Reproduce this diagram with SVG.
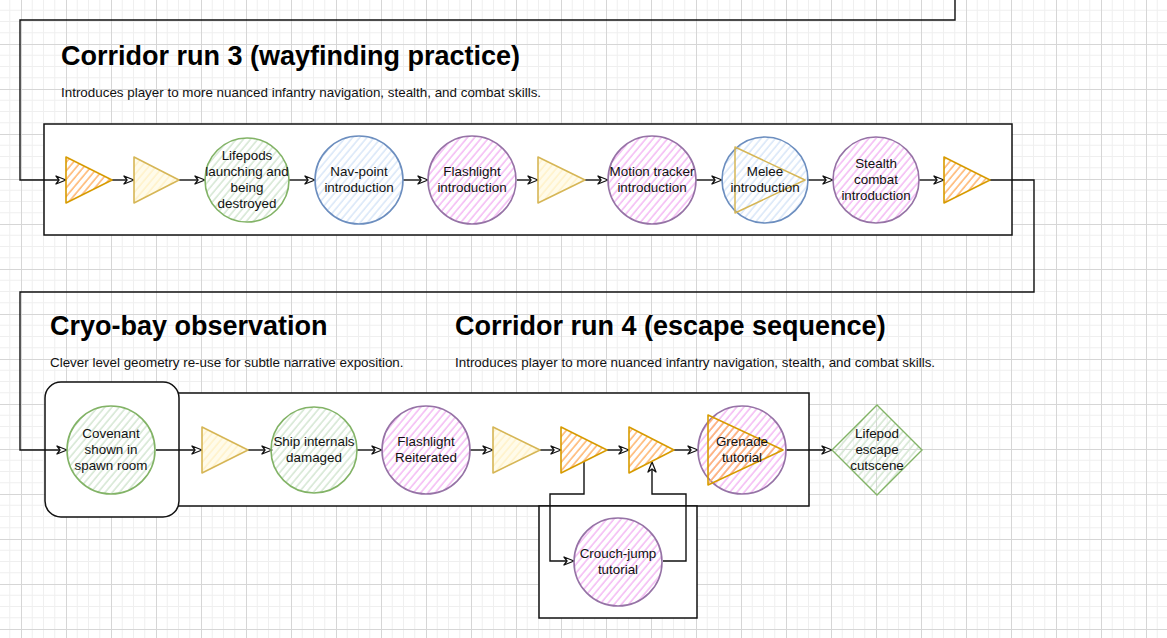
<svg xmlns="http://www.w3.org/2000/svg" width="1167" height="638" viewBox="0 0 1167 638">
<defs>
  <pattern id="grid" patternUnits="userSpaceOnUse" x="21" y="-1" width="45" height="45">
    <rect x="0" y="0" width="45" height="45" fill="#fff"/>
    <path d="M11.25 0V45M22.5 0V45M33.75 0V45M0 11.25H45M0 22.5H45M0 33.75H45" stroke="#efefef" stroke-width="1"/>
    <path d="M0.5 0V45M0 0.5H45" stroke="#d6d6d6" stroke-width="1"/>
  </pattern>
  <pattern id="hP" patternUnits="userSpaceOnUse" width="5.5" height="10" patternTransform="rotate(40)">
    <line x1="1" y1="0" x2="1" y2="10" stroke="#f2aef2" stroke-width="1.3"/>
  </pattern>
  <pattern id="hG" patternUnits="userSpaceOnUse" width="5.5" height="10" patternTransform="rotate(40)">
    <line x1="1" y1="0" x2="1" y2="10" stroke="#cde2cb" stroke-width="1.3"/>
  </pattern>
  <pattern id="hB" patternUnits="userSpaceOnUse" width="5.5" height="10" patternTransform="rotate(40)">
    <line x1="1" y1="0" x2="1" y2="10" stroke="#d2e2f7" stroke-width="1.3"/>
  </pattern>
  <pattern id="hO" patternUnits="userSpaceOnUse" width="5.5" height="10" patternTransform="rotate(40)">
    <line x1="1" y1="0" x2="1" y2="10" stroke="#ffb36b" stroke-width="1.5"/>
  </pattern>
  <pattern id="hY" patternUnits="userSpaceOnUse" width="5.5" height="10" patternTransform="rotate(40)">
    <rect width="5.5" height="10" fill="#fffbea"/>
    <line x1="1" y1="0" x2="1" y2="10" stroke="#fff2c8" stroke-width="1.5"/>
  </pattern>
  <marker id="arr" markerUnits="userSpaceOnUse" markerWidth="12" markerHeight="10" refX="11" refY="5" orient="auto" overflow="visible">
    <path d="M1,1 L11,5 L1,9 L4,5 Z" fill="#fff" stroke="#111" stroke-width="1.3" stroke-linejoin="round"/>
  </marker>
</defs>
<style>
  .t{font-family:"Liberation Sans",Arial,Helvetica,sans-serif;font-size:13.4px;fill:#111;text-anchor:middle}
  .title{font-family:"Liberation Sans",Arial,Helvetica,sans-serif;font-weight:bold;font-size:27px;fill:#000}
  .sub{font-family:"Liberation Sans",Arial,Helvetica,sans-serif;font-size:13.4px;fill:#111}
  .box{fill:#fff;stroke:#111;stroke-width:1.5}
  .edge{fill:none;stroke:#111;stroke-width:1.4}
  .ea{fill:none;stroke:#111;stroke-width:1.4;marker-end:url(#arr)}
  .cP{fill:url(#hP);stroke:#9673a6;stroke-width:1.6}
  .cG{fill:url(#hG);stroke:#82b366;stroke-width:1.6}
  .cB{fill:url(#hB);stroke:#6c8ebf;stroke-width:1.6}
  .tO{fill:url(#hO);stroke:#d79b00;stroke-width:1.6;stroke-linejoin:round}
  .tY{fill:url(#hY);stroke:#d6b656;stroke-width:1.6;stroke-linejoin:round}
</style>
<rect x="0" y="0" width="1167" height="638" fill="url(#grid)"/>

<g id="containers">
  <rect id="corridor3" class="box" x="44" y="124" width="968" height="111"/>
  <rect id="corridor4" class="box" x="178" y="393" width="631" height="113"/>
  <rect id="cryobay" class="box" x="45" y="382" width="134" height="135" rx="16"/>
  <rect id="crouchbox" class="box" x="539" y="506" width="158" height="112"/>
</g>

<g id="titles">
  <text class="title" x="61" y="65">Corridor run 3 (wayfinding practice)</text>
  <text class="sub" x="61" y="97">Introduces player to more nuanced infantry navigation, stealth, and combat skills.</text>
  <text class="title" x="50" y="335">Cryo-bay observation</text>
  <text class="sub" x="50" y="367">Clever level geometry re-use for subtle narrative exposition.</text>
  <text class="title" x="455" y="335">Corridor run 4 (escape sequence)</text>
  <text class="sub" x="455" y="367">Introduces player to more nuanced infantry navigation, stealth, and combat skills.</text>
</g>

<g id="connectors">
  <path class="ea" d="M955,0 V20 H20 V180 H66"/>
  <path class="ea" d="M112,180 H134"/>
  <path class="ea" d="M179,180 H205"/>
  <path class="ea" d="M289,180 H315"/>
  <path class="ea" d="M403,180 H428"/>
  <path class="ea" d="M517,180 H538"/>
  <path class="ea" d="M585,180 H608"/>
  <path class="ea" d="M696,180 H722"/>
  <path class="ea" d="M807,180 H833"/>
  <path class="ea" d="M919,180 H944"/>
  <path class="ea" d="M990,180 H1034 V292 H20 V450 H67"/>
  <path class="ea" d="M156,450 H202"/>
  <path class="ea" d="M248,450 H272"/>
  <path class="ea" d="M357,450 H382"/>
  <path class="ea" d="M469,450 H493"/>
  <path class="ea" d="M540,450 H561"/>
  <path class="ea" d="M607,450 H629"/>
  <path class="ea" d="M674,450 H698"/>
  <path class="ea" d="M785,450 H832"/>
  <path class="ea" d="M584,462 V494 H550 V561 H574"/>
  <path class="ea" d="M663,561 H686 V494 H652 V462"/>
</g>

<g id="n-start3"><polygon class="tO" points="66,157 112,180 66,203"/></g>
<g id="n-gate1"><polygon class="tY" points="134,157 179,180 134,203"/></g>
<g id="n-lifepods">
  <circle class="cG" cx="247" cy="180" r="42"/>
  <text class="t" x="247" y="160">Lifepods</text>
  <text class="t" x="247" y="176">launching and</text>
  <text class="t" x="247" y="192">being</text>
  <text class="t" x="247" y="208">destroyed</text>
</g>
<g id="n-navpoint">
  <circle class="cB" cx="359" cy="180" r="44"/>
  <text class="t" x="359" y="176">Nav-point</text>
  <text class="t" x="359" y="192">introduction</text>
</g>
<g id="n-flashlight">
  <circle class="cP" cx="472" cy="180" r="44"/>
  <text class="t" x="472" y="176">Flashlight</text>
  <text class="t" x="472" y="192">introduction</text>
</g>
<g id="n-gate2"><polygon class="tY" points="538,157 585,180 538,203"/></g>
<g id="n-motion">
  <circle class="cP" cx="652" cy="180" r="44"/>
  <text class="t" x="652" y="176">Motion tracker</text>
  <text class="t" x="652" y="192">introduction</text>
</g>
<g id="n-melee">
  <circle class="cB" cx="765" cy="180" r="43"/>
  <polygon points="735,147 805,180 735,213" fill="none" stroke="#d6b656" stroke-width="1.5" stroke-linejoin="round"/>
  <text class="t" x="765" y="176">Melee</text>
  <text class="t" x="765" y="192">introduction</text>
</g>
<g id="n-stealth">
  <circle class="cP" cx="876" cy="180" r="43"/>
  <text class="t" x="876" y="168">Stealth</text>
  <text class="t" x="876" y="184">combat</text>
  <text class="t" x="876" y="200">introduction</text>
</g>
<g id="n-end3"><polygon class="tO" points="944,157 990,180 944,203"/></g>

<g id="n-covenant">
  <circle class="cG" cx="111" cy="450" r="44"/>
  <text class="t" x="111" y="438">Covenant</text>
  <text class="t" x="111" y="454">shown in</text>
  <text class="t" x="111" y="470">spawn room</text>
</g>
<g id="n-gate3"><polygon class="tY" points="202,427 248,450 202,473"/></g>
<g id="n-ship">
  <circle class="cG" cx="314" cy="450" r="43"/>
  <text class="t" x="314" y="446">Ship internals</text>
  <text class="t" x="314" y="462">damaged</text>
</g>
<g id="n-flashlight2">
  <circle class="cP" cx="426" cy="450" r="44"/>
  <text class="t" x="426" y="446">Flashlight</text>
  <text class="t" x="426" y="462">Reiterated</text>
</g>
<g id="n-gate4"><polygon class="tY" points="493,427 540,450 493,473"/></g>
<g id="n-branch"><polygon class="tO" points="561,427 607,450 561,473"/></g>
<g id="n-merge"><polygon class="tO" points="629,427 674,450 629,473"/></g>
<g id="n-grenade">
  <circle class="cP" cx="742" cy="450" r="44"/>
  <polygon class="tO" points="708,415 783,450 708,485"/>
  <text class="t" x="742" y="446">Grenade</text>
  <text class="t" x="742" y="462">tutorial</text>
</g>
<g id="n-escape">
  <polygon points="877,405 922,450 877,495 832,450" fill="url(#hG)" stroke="#82b366" stroke-width="1.4"/>
  <text class="t" x="877" y="438">Lifepod</text>
  <text class="t" x="877" y="454">escape</text>
  <text class="t" x="877" y="470">cutscene</text>
</g>
<g id="n-crouch">
  <circle class="cP" cx="618" cy="562" r="44"/>
  <text class="t" x="618" y="558">Crouch-jump</text>
  <text class="t" x="618" y="574">tutorial</text>
</g>
</svg>
